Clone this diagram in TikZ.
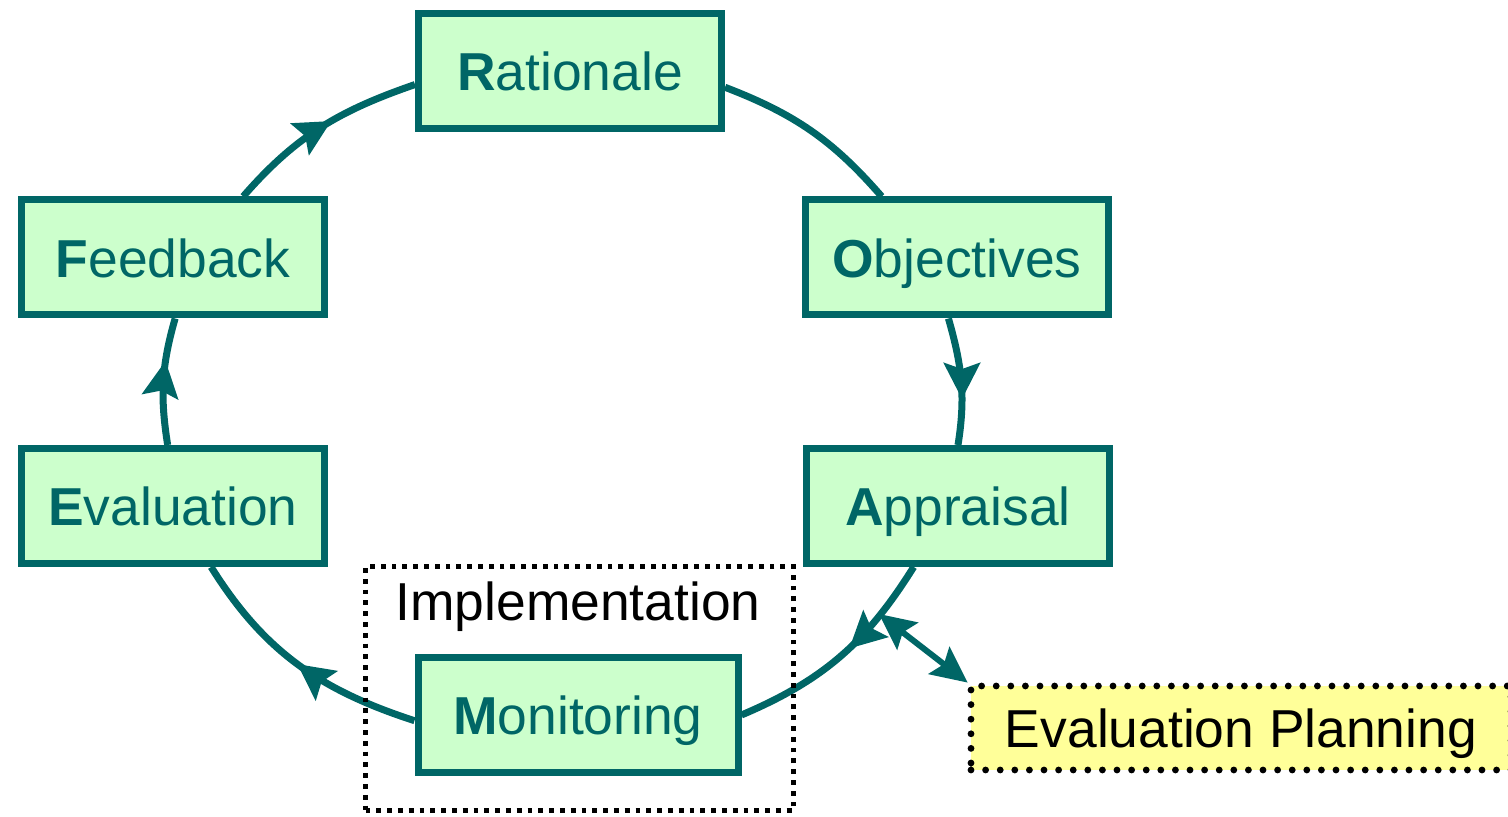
\documentclass[tikz,border=0pt]{standalone}
\usepackage{fontspec}
\setmainfont{Liberation Sans}
\usetikzlibrary{arrows.meta,decorations.markings}
\pgfdeclarelayer{edgelayer}
\pgfdeclarelayer{nodelayer}
\pgfsetlayers{edgelayer,nodelayer,main}
\definecolor{cycleteal}{HTML}{006666}
\definecolor{stagegreen}{HTML}{CCFFCC}
\definecolor{planyellow}{HTML}{FFFF99}
\tikzstyle{edge}=[draw=cycleteal, line width=3.5pt]
\tikzstyle{stage}=[rectangle, fill=stagegreen, draw=cycleteal, line width=3.5pt, text=cycleteal, minimum width=151.5pt, minimum height=57.5pt, inner sep=0pt, text height=20pt, text depth=0pt, font=\fontsize{26.7}{30}\selectfont]
\tikzstyle{plan}=[rectangle, fill=planyellow, draw=black, line width=3.4pt, line cap=round, dash pattern=on 0pt off 7.3pt, minimum width=270pt, minimum height=42pt, inner sep=0pt, text height=20pt, text depth=0pt, font=\fontsize{26.7}{30}\selectfont]
\tikzstyle{phase}=[rectangle, draw=black, line width=2.4pt, dash pattern=on 2.4pt off 3pt, minimum width=214pt, minimum height=122pt]
\tikzset{midarrow/.style={postaction={decorate, decoration={markings, mark=at position #1 with {\arrow{Stealth[length=18pt, width=18pt, inset=3pt]}}}}}}

\begin{document}
\begin{tikzpicture}[x=0.5pt, y=0.5pt]
	\useasboundingbox (0,0) rectangle (1508,817);
	\begin{pgfonlayer}{nodelayer}
		\node [style=stage] (0) at (570, 746) {\textbf{R}ationale};
		\node [style=stage] (1) at (957, 559.5) {\textbf{O}bjectives};
		\node [style=stage] (2) at (958, 311) {\textbf{A}ppraisal};
		\node [style=stage, minimum width=160pt] (3) at (578, 102) {\textbf{M}onitoring};
		\node [style=stage] (4) at (173, 311) {\textbf{E}valuation};
		\node [style=stage] (5) at (173, 559.5) {\textbf{F}eedback};
		\node [style=phase] (6) at (579.5, 128.5) {};
		\node [anchor=base, font=\fontsize{26.7}{30}\selectfont] (7) at (578, 196) {Implementation};
		\node [style=plan] (8) at (1241, 89) {Evaluation Planning};
	\end{pgfonlayer}
	\begin{pgfonlayer}{edgelayer}
		\draw [style=edge] (0.354) to [out=-21, in=131] (1.141);
		\draw [style=edge, midarrow=0.64] (1.262) to [out=-74, in=81] (2.north);
		\draw [style=edge, midarrow=0.45] (2.234) to [out=-122, in=23] (3.east);
		\draw [style=edge, midarrow=0.5] (3.182) to [out=162, in=302] (4.302);
		\draw [style=edge, midarrow=0.66] (4.95) to [out=99, in=254] (5.272);
		\draw [style=edge, midarrow=0.56] (5.41) to [out=49, in=199] (0.185);
		\coordinate (9) at (879, 203);
		\draw [style=edge, line width=3pt, {Stealth[length=18pt, width=17pt, inset=3pt]}-{Stealth[length=18pt, width=17pt, inset=3pt]}] (9) -- (8.north west);
	\end{pgfonlayer}
\end{tikzpicture}
\end{document}
